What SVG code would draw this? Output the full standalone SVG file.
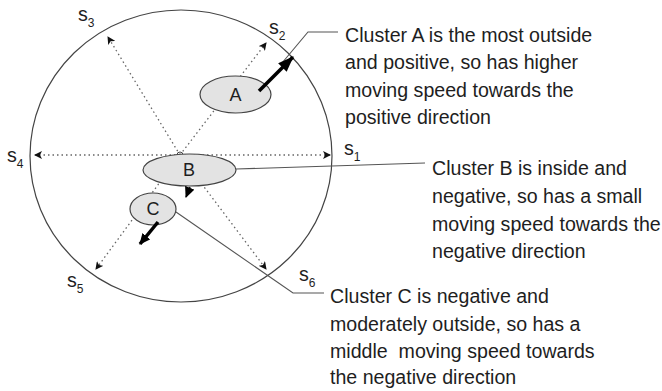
<svg xmlns="http://www.w3.org/2000/svg" width="662" height="391" viewBox="0 0 662 391">
<defs>
<style>
.txt{font-family:"Liberation Sans",Arial,sans-serif;font-size:19.6px;fill:#1e1e1e}
.lbl{font-family:"Liberation Sans",Arial,sans-serif;font-size:18px;fill:#1e1e1e}
.sub{font-size:12px}
.dot{stroke:#666;stroke-width:1.3;stroke-dasharray:1.5 3;fill:none}
.lead{stroke:#555;stroke-width:1.1;fill:none}
.clu{fill:#e3e3e3;stroke:#444;stroke-width:1.2}
.mov{stroke:#000;stroke-width:3.5;fill:none}
</style>
<marker id="sm" markerWidth="8" markerHeight="8" refX="7" refY="4" orient="auto" markerUnits="userSpaceOnUse">
<path d="M0,0 L8,4 L0,8 L2,4 Z" fill="#111"/>
</marker>
<marker id="big" markerWidth="16" markerHeight="12" refX="15" refY="6" orient="auto" markerUnits="userSpaceOnUse">
<path d="M0,0 L16,6 L0,12 Z" fill="#000"/>
</marker>
<marker id="mid" markerWidth="11" markerHeight="10" refX="10" refY="5" orient="auto" markerUnits="userSpaceOnUse">
<path d="M0,0 L11,5 L0,10 Z" fill="#000"/>
</marker>
</defs>
<rect width="662" height="391" fill="#fff"/>
<g id="circle">
<ellipse cx="181" cy="156" rx="151" ry="146" fill="none" stroke="#444" stroke-width="1.2"/>
</g>
<g id="connectors">
<line class="dot" x1="180" y1="155" x2="330" y2="155" marker-end="url(#sm)"/>
<line class="dot" x1="180" y1="155" x2="35" y2="155" marker-end="url(#sm)"/>
<line class="dot" x1="180" y1="155" x2="266" y2="43" marker-end="url(#sm)"/>
<line class="dot" x1="180" y1="155" x2="108" y2="37" marker-end="url(#sm)"/>
<line class="dot" x1="180" y1="155" x2="96" y2="269" marker-end="url(#sm)"/>
<line class="dot" x1="180" y1="155" x2="266" y2="269" marker-end="url(#sm)"/>
<path d="M177,155 A3,3 0 0 1 183,155" fill="none" stroke="#444" stroke-width="1"/>
<path class="lead" d="M282,63 L308,32 L338,32"/>
<path class="lead" d="M236,169 L425,163"/>
<path class="lead" d="M176,212 L293,293 L324,293"/>
</g>
<g id="nodeA">
<ellipse class="clu" cx="235.5" cy="94.5" rx="35.5" ry="18.5"/>
<text class="lbl" x="235.5" y="101" text-anchor="middle">A</text>
</g>
<g id="nodeB">
<ellipse class="clu" cx="189.5" cy="170" rx="46.5" ry="16"/>
<text class="lbl" x="189" y="176" text-anchor="middle">B</text>
</g>
<g id="nodeC">
<ellipse class="clu" cx="153" cy="209" rx="23" ry="16"/>
<text class="lbl" x="153" y="215" text-anchor="middle">C</text>
</g>
<g id="moves">
<line class="mov" x1="259" y1="91" x2="293" y2="57" marker-end="url(#big)"/>
<line x1="190" y1="187" x2="186" y2="197" stroke="#000" stroke-width="1.5" marker-end="url(#mid)"/>
<line class="mov" stroke-width="3" x1="158" y1="222" x2="140" y2="244" marker-end="url(#mid)"/>
</g>
<g id="axisLabels" class="txt">
<text x="78" y="21">s<tspan class="sub" dy="6">3</tspan></text>
<text x="269" y="34">s<tspan class="sub" dy="6">2</tspan></text>
<text x="7" y="162">s<tspan class="sub" dy="6">4</tspan></text>
<text x="344" y="155">s<tspan class="sub" dy="6">1</tspan></text>
<text x="67" y="287">s<tspan class="sub" dy="6">5</tspan></text>
<text x="299" y="281">s<tspan class="sub" dy="6">6</tspan></text>
</g>
<g id="noteA" class="txt">
<text x="345" y="42">Cluster A is the most outside</text>
<text x="345" y="69">and positive, so has higher</text>
<text x="345" y="97">moving speed towards the</text>
<text x="345" y="124">positive direction</text>
</g>
<g id="noteB" class="txt">
<text x="432" y="175">Cluster B is inside and</text>
<text x="432" y="203">negative, so has a small</text>
<text x="432" y="231">moving speed towards the</text>
<text x="432" y="258">negative direction</text>
</g>
<g id="noteC" class="txt">
<text x="330" y="303">Cluster C is negative and</text>
<text x="330" y="331">moderately outside, so has a</text>
<text x="330" y="358" style="white-space:pre">middle  moving speed towards</text>
<text x="330" y="384">the negative direction</text>
</g>
</svg>
